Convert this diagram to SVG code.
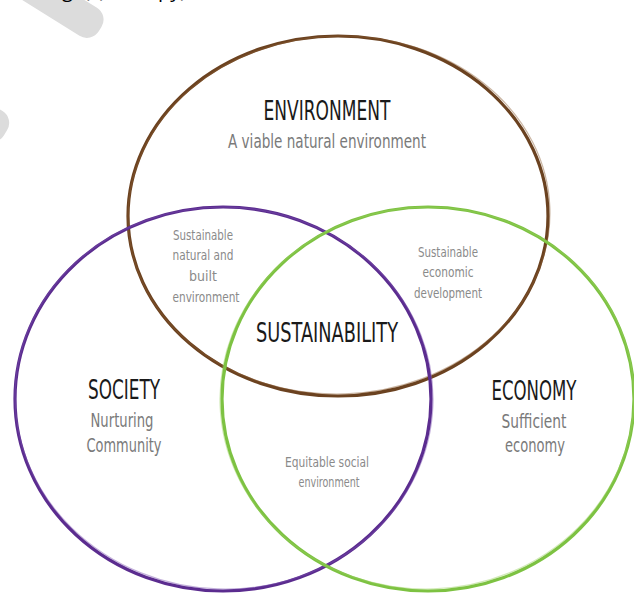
<svg xmlns="http://www.w3.org/2000/svg" width="634" height="595" viewBox="0 0 634 595">
<style>
.ring{fill:none;stroke-width:3.2;stroke-linecap:round}
.ring2{fill:none;stroke-width:1.2;opacity:0.45}
.head{font-family:"DejaVu Sans Condensed","DejaVu Sans","Liberation Sans",sans-serif;font-stretch:condensed;fill:#1a1a1a;text-anchor:middle}
.sub{font-family:"DejaVu Sans Condensed","DejaVu Sans","Liberation Sans",sans-serif;font-stretch:condensed;fill:#7a7a7a;text-anchor:middle}
.small{font-family:"DejaVu Sans Condensed","DejaVu Sans","Liberation Sans",sans-serif;font-stretch:condensed;fill:#8a8a8a;text-anchor:middle;font-size:14px}
.top{font-family:"Open Sans","DejaVu Sans",sans-serif;font-size:20px;fill:#000}
</style>
<rect width="634" height="595" fill="#ffffff"/>
<g id="watermark" fill="#dcdcdc">
<g transform="translate(-19 10)">
<rect x="-10" y="-30" width="125" height="33" rx="14" transform="rotate(32 60 10)"/>
</g>
<rect x="-60" y="100" width="70" height="34" rx="14" transform="rotate(32 -20 117)"/>
</g>
<g id="cut-text">
<text class="top" x="62" y="-3">ge(s)</text>
<text class="top" x="158" y="-3">py)</text>
</g>
<g id="connectors">
<g id="environment-circle">
<ellipse class="ring" cx="338" cy="216" rx="210" ry="180" stroke="#6b4220"/>
<ellipse class="ring2" cx="339" cy="215" rx="211" ry="179" stroke="#8a5a30" transform="rotate(-2 338 216)"/>
</g>
<g id="society-circle">
<ellipse class="ring" cx="223" cy="399" rx="208" ry="192" stroke="#5b2c8f"/>
<ellipse class="ring2" cx="224" cy="398" rx="209" ry="191" stroke="#7a4fb0" transform="rotate(2 223 399)"/>
</g>
<g id="economy-circle">
<ellipse class="ring" cx="428" cy="399" rx="206" ry="192" stroke="#7dc242"/>
<ellipse class="ring2" cx="427" cy="398" rx="207" ry="191" stroke="#9ad160" transform="rotate(-2 428 399)"/>
</g>
</g>
<g id="environment">
<text class="head" x="327" y="120" font-size="27" textLength="127" lengthAdjust="spacingAndGlyphs">ENVIRONMENT</text>
<text class="sub" x="327" y="148" font-size="19" textLength="198" lengthAdjust="spacingAndGlyphs">A viable natural environment</text>
</g>
<g id="society">
<text class="head" x="124" y="399" font-size="27" textLength="72" lengthAdjust="spacingAndGlyphs">SOCIETY</text>
<text class="sub" x="122" y="427" font-size="19" textLength="63" lengthAdjust="spacingAndGlyphs">Nurturing</text>
<text class="sub" x="124" y="452" font-size="19" textLength="75" lengthAdjust="spacingAndGlyphs">Community</text>
</g>
<g id="economy">
<text class="head" x="534" y="400" font-size="27" textLength="85" lengthAdjust="spacingAndGlyphs">ECONOMY</text>
<text class="sub" x="534" y="428" font-size="19" textLength="65" lengthAdjust="spacingAndGlyphs">Sufficient</text>
<text class="sub" x="535" y="452" font-size="19" textLength="60" lengthAdjust="spacingAndGlyphs">economy</text>
</g>
<g id="sustainability">
<text class="head" x="327" y="342" font-size="27" textLength="142" lengthAdjust="spacingAndGlyphs">SUSTAINABILITY</text>
</g>
<g id="natural-built">
<text class="small" x="203" y="240" textLength="60" lengthAdjust="spacingAndGlyphs">Sustainable</text>
<text class="small" x="203" y="260" textLength="61" lengthAdjust="spacingAndGlyphs">natural and</text>
<text class="small" x="203" y="281">built</text>
<text class="small" x="206" y="302" textLength="67" lengthAdjust="spacingAndGlyphs">environment</text>
</g>
<g id="economic-development">
<text class="small" x="448" y="257" textLength="60" lengthAdjust="spacingAndGlyphs">Sustainable</text>
<text class="small" x="448" y="277" textLength="51" lengthAdjust="spacingAndGlyphs">economic</text>
<text class="small" x="448" y="298" textLength="68" lengthAdjust="spacingAndGlyphs">development</text>
</g>
<g id="equitable-social">
<text class="small" x="327" y="467" textLength="84" lengthAdjust="spacingAndGlyphs">Equitable social</text>
<text class="small" x="329" y="487" textLength="61" lengthAdjust="spacingAndGlyphs">environment</text>
</g>
</svg>
